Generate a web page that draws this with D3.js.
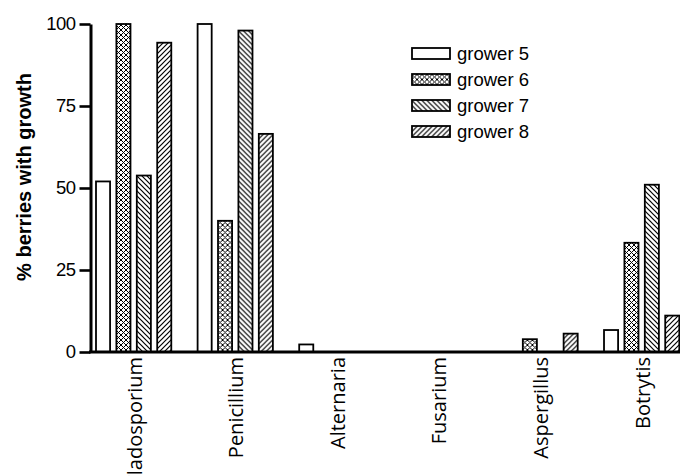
<!DOCTYPE html>
<html>
<head>
<meta charset="utf-8">
<script src="https://cdn.jsdelivr.net/npm/d3@7"></script>
<style>
  html, body { margin: 0; padding: 0; background: #fff; }
  svg { display: block; }
</style>
</head>
<body>
<svg id="chart" width="680" height="476"></svg>
<script>
const categories = ["Cladosporium", "Penicillium", "Alternaria", "Fusarium", "Aspergillus", "Botrytis"];
const seriesNames = ["grower 5", "grower 6", "grower 7", "grower 8"];
const grower5 = [52, 100, 2.3, 0, 0, 6.7];
const grower6 = [100, 40, 0, 0, 3.9, 33.3];
const grower7 = [53.8, 98, 0, 0, 0, 51];
const grower8 = [94.3, 66.5, 0, 0, 5.6, 11.1];
const yTicks = [0, 25, 50, 75, 100];

const seriesValues = [grower5, grower6, grower7, grower8];
const patternIds = ["none", "p6", "p7", "p8"];

const svg = d3.select("#chart");
const defs = svg.append("defs");

// pattern: grower 6 crosshatch
const p6 = defs.append("pattern").attr("id", "p6").attr("patternUnits", "userSpaceOnUse")
  .attr("width", 5).attr("height", 5);
p6.append("rect").attr("width", 5).attr("height", 5).attr("fill", "#fff");
p6.append("path").attr("d", "M0,0L5,5M5,0L0,5M-1,4L1,6M4,-1L6,1M-1,1L1,-1M4,6L6,4")
  .attr("stroke", "#000").attr("stroke-width", 1.0);
// grower 7: "\" lines
const p7 = defs.append("pattern").attr("id", "p7").attr("patternUnits", "userSpaceOnUse")
  .attr("width", 5).attr("height", 5);
p7.append("rect").attr("width", 5).attr("height", 5).attr("fill", "#fff");
p7.append("path").attr("d", "M0,0L5,5M-1,4L1,6M4,-1L6,1")
  .attr("stroke", "#000").attr("stroke-width", 1.2);
// grower 8: "/" lines
const p8 = defs.append("pattern").attr("id", "p8").attr("patternUnits", "userSpaceOnUse")
  .attr("width", 5).attr("height", 5);
p8.append("rect").attr("width", 5).attr("height", 5).attr("fill", "#fff");
p8.append("path").attr("d", "M0,5L5,0M-1,1L1,-1M4,6L6,4")
  .attr("stroke", "#000").attr("stroke-width", 1.2);

const fillFor = i => i === 0 ? "#fff" : `url(#${patternIds[i]})`;

const axisX = 90.5;
const y = d3.scaleLinear().domain([0, 100]).range([352, 24]);
const x0 = d3.scaleBand().domain(categories).range([96, 679.3]).paddingInner(0.259).paddingOuter(0);
const x1 = d3.scaleBand().domain(seriesNames).range([0, x0.bandwidth()]).paddingInner(0.31).paddingOuter(0);

// bars
const groups = svg.append("g").selectAll("g").data(categories).join("g")
  .attr("transform", d => `translate(${x0(d)},0)`);
groups.selectAll("rect")
  .data((c, ci) => seriesNames.map((s, si) => ({ s, si, v: seriesValues[si][ci] })).filter(d => d.v > 0))
  .join("rect")
  .attr("x", d => x1(d.s))
  .attr("width", x1.bandwidth())
  .attr("y", d => y(d.v))
  .attr("height", d => y(0) - y(d.v))
  .attr("fill", d => fillFor(d.si))
  .attr("stroke", "#000")
  .attr("stroke-width", 1.8);

// y axis
const yAxis = svg.append("g").attr("transform", `translate(${axisX},0)`)
  .call(d3.axisLeft(y).tickValues(yTicks).tickSize(11).tickSizeOuter(0).tickPadding(4));
yAxis.select(".domain").attr("stroke", "#000").attr("stroke-width", 3);
yAxis.selectAll(".tick line").attr("stroke", "#000").attr("stroke-width", 2.6);
yAxis.selectAll(".tick text").attr("font-family", "Liberation Sans, Arial, sans-serif")
  .attr("font-size", 18.5).attr("fill", "#000").attr("letter-spacing", "-0.5");

// x axis line
svg.append("line").attr("x1", axisX - 1.5).attr("x2", 680).attr("y1", y(0)).attr("y2", y(0))
  .attr("stroke", "#000").attr("stroke-width", 3);

// category labels
svg.append("g").selectAll("text").data(categories).join("text")
  .attr("transform", d => `translate(${x0(d) + x0.bandwidth() / 2 + 1},357) rotate(-90)`)
  .attr("text-anchor", "end")
  .attr("dy", "0.35em")
  .attr("font-family", "Open Sans, sans-serif")
  .attr("font-size", 20)
  .attr("fill", "#000")
  .text(d => d);

// y label
svg.append("text")
  .attr("transform", "translate(24,177) rotate(-90)")
  .attr("text-anchor", "middle")
  .attr("dy", "0.35em")
  .attr("font-family", "Liberation Sans, Arial, sans-serif")
  .attr("font-weight", "bold")
  .attr("font-size", 20)
  .attr("fill", "#000")
  .text("% berries with growth");

// legend
const legend = svg.append("g").selectAll("g").data(seriesNames).join("g")
  .attr("transform", (d, i) => `translate(412,${53.5 + i * 26})`);
legend.append("rect")
  .attr("x", 0).attr("y", -5.5).attr("width", 38).attr("height", 11)
  .attr("fill", (d, i) => fillFor(i))
  .attr("stroke", "#000").attr("stroke-width", 1.8);
legend.append("text")
  .attr("x", 45).attr("dy", "0.35em")
  .attr("font-family", "Liberation Sans, Arial, sans-serif")
  .attr("font-size", 18.5).attr("fill", "#000")
  .text(d => d);
</script>
</body>
</html>
